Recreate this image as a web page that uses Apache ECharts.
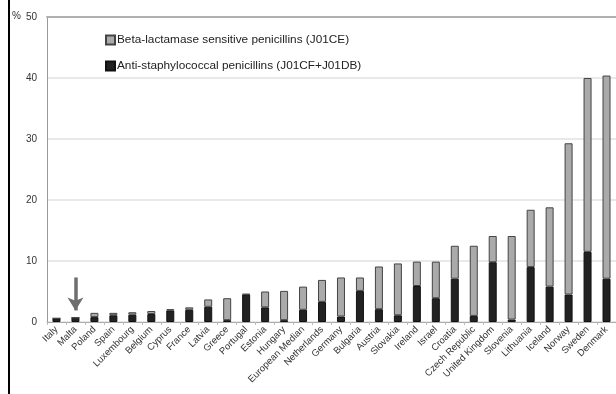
<!DOCTYPE html>
<html>
<head>
<meta charset="utf-8">
<script src="https://cdn.jsdelivr.net/npm/echarts@6/dist/echarts.min.js"></script>
<style>html,body{margin:0;padding:0;background:#fff}#c{width:616px;height:394px}</style>
</head>
<body>
<div id="c"></div>
<script>
const categories = ['Italy','Malta','Poland','Spain','Luxembourg','Belgium','Cyprus','France','Latvia','Greece','Portugal','Estonia','Hungary','European Median','Netherlands','Germany','Bulgaria','Austria','Slovakia','Ireland','Israel','Croatia','Czech Republic','United Kingdom','Slovenia','Lithuania','Iceland','Norway','Sweden','Denmark'];
const antiStaph = [0.6,0.7,0.8,1.1,1.2,1.3,1.9,2.0,2.5,0.3,4.5,2.4,0.3,2.0,3.3,0.9,5.1,2.1,1.1,5.9,3.9,7.1,1.0,9.8,0.4,9.0,5.8,4.5,11.5,7.1];
const betaTotal = [0.6,0.7,1.5,1.5,1.6,1.8,2.1,2.4,3.7,3.9,4.6,5.0,5.1,5.8,6.9,7.3,7.3,9.1,9.6,9.9,9.9,12.5,12.5,14.1,14.1,18.4,18.8,29.3,40.0,40.4];
const betaSensitive = betaTotal.map((t,i)=>Math.max(0, +(t-antiStaph[i]).toFixed(2)));
const yTicks = [0,10,20,30,40,50];

const chart = echarts.init(document.getElementById('c'), null, {renderer:'canvas'});
chart.setOption({
  animation:false,
  backgroundColor:'#fff',
  textStyle:{fontFamily:'Liberation Sans, Arial, sans-serif'},
  graphic:[{type:'line',shape:{x1:9,y1:0,x2:9,y2:394},style:{stroke:'#000',lineWidth:2}}],
  title:{text:'%', left:12, top:11, textStyle:{fontSize:10,fontWeight:'normal',color:'#333'}, padding:0},
  legend:{
    orient:'vertical', left:100, top:29, itemGap:14, itemWidth:9, itemHeight:9,
    icon:'rect',
    data:['Beta-lactamase sensitive penicillins (J01CE)','Anti-staphylococcal penicillins (J01CF+J01DB)'],
    textStyle:{fontSize:11.8,color:'#222',padding:[0,0,0,-3]}
  },
  grid:{left:47,right:-4,top:17,bottom:72,containLabel:false},
  xAxis:[{
    type:'category', data:categories,
    axisLine:{lineStyle:{color:'#aaa',width:1}},
    axisTick:{show:true,length:3,lineStyle:{color:'#bbb'}},
    axisLabel:{rotate:45,fontSize:9.5,color:'#333',interval:0,margin:6}
  },{
    type:'category', data:categories, position:'top',
    axisLine:{show:true,lineStyle:{color:'#b0b0b0',width:2}},
    axisTick:{show:false}, axisLabel:{show:false}, splitLine:{show:false}
  }],
  yAxis:{
    type:'value', min:0, max:50, interval:10,
    axisLine:{show:true,lineStyle:{color:'#999',width:1}},
    axisTick:{show:false},
    axisLabel:{fontSize:10,color:'#333',margin:10,formatter:v=>yTicks.includes(v)?String(v):''},
    splitLine:{lineStyle:{color:'#e2e2e2',width:1.5}}
  },
  series:[
    {
      name:'Anti-staphylococcal penicillins (J01CF+J01DB)', type:'bar', stack:'a', barWidth:8,
      data:antiStaph,
      itemStyle:{color:'#222',borderColor:'#111',borderWidth:1},
      markLine:{
        silent:true, symbol:['none','arrow'], symbolSize:[12,13],
        label:{show:false},
        lineStyle:{color:'#6e6e6e',width:3.5,type:'solid'},
        data:[[{coord:['Malta',7.3]},{coord:['Malta',1.9]}]]
      }
    },
    {
      name:'Beta-lactamase sensitive penicillins (J01CE)', type:'bar', stack:'a', barWidth:8,
      data:betaSensitive,
      itemStyle:{color:'#aaa',borderColor:'#444',borderWidth:1}
    }
  ]
});
</script>
</body>
</html>
